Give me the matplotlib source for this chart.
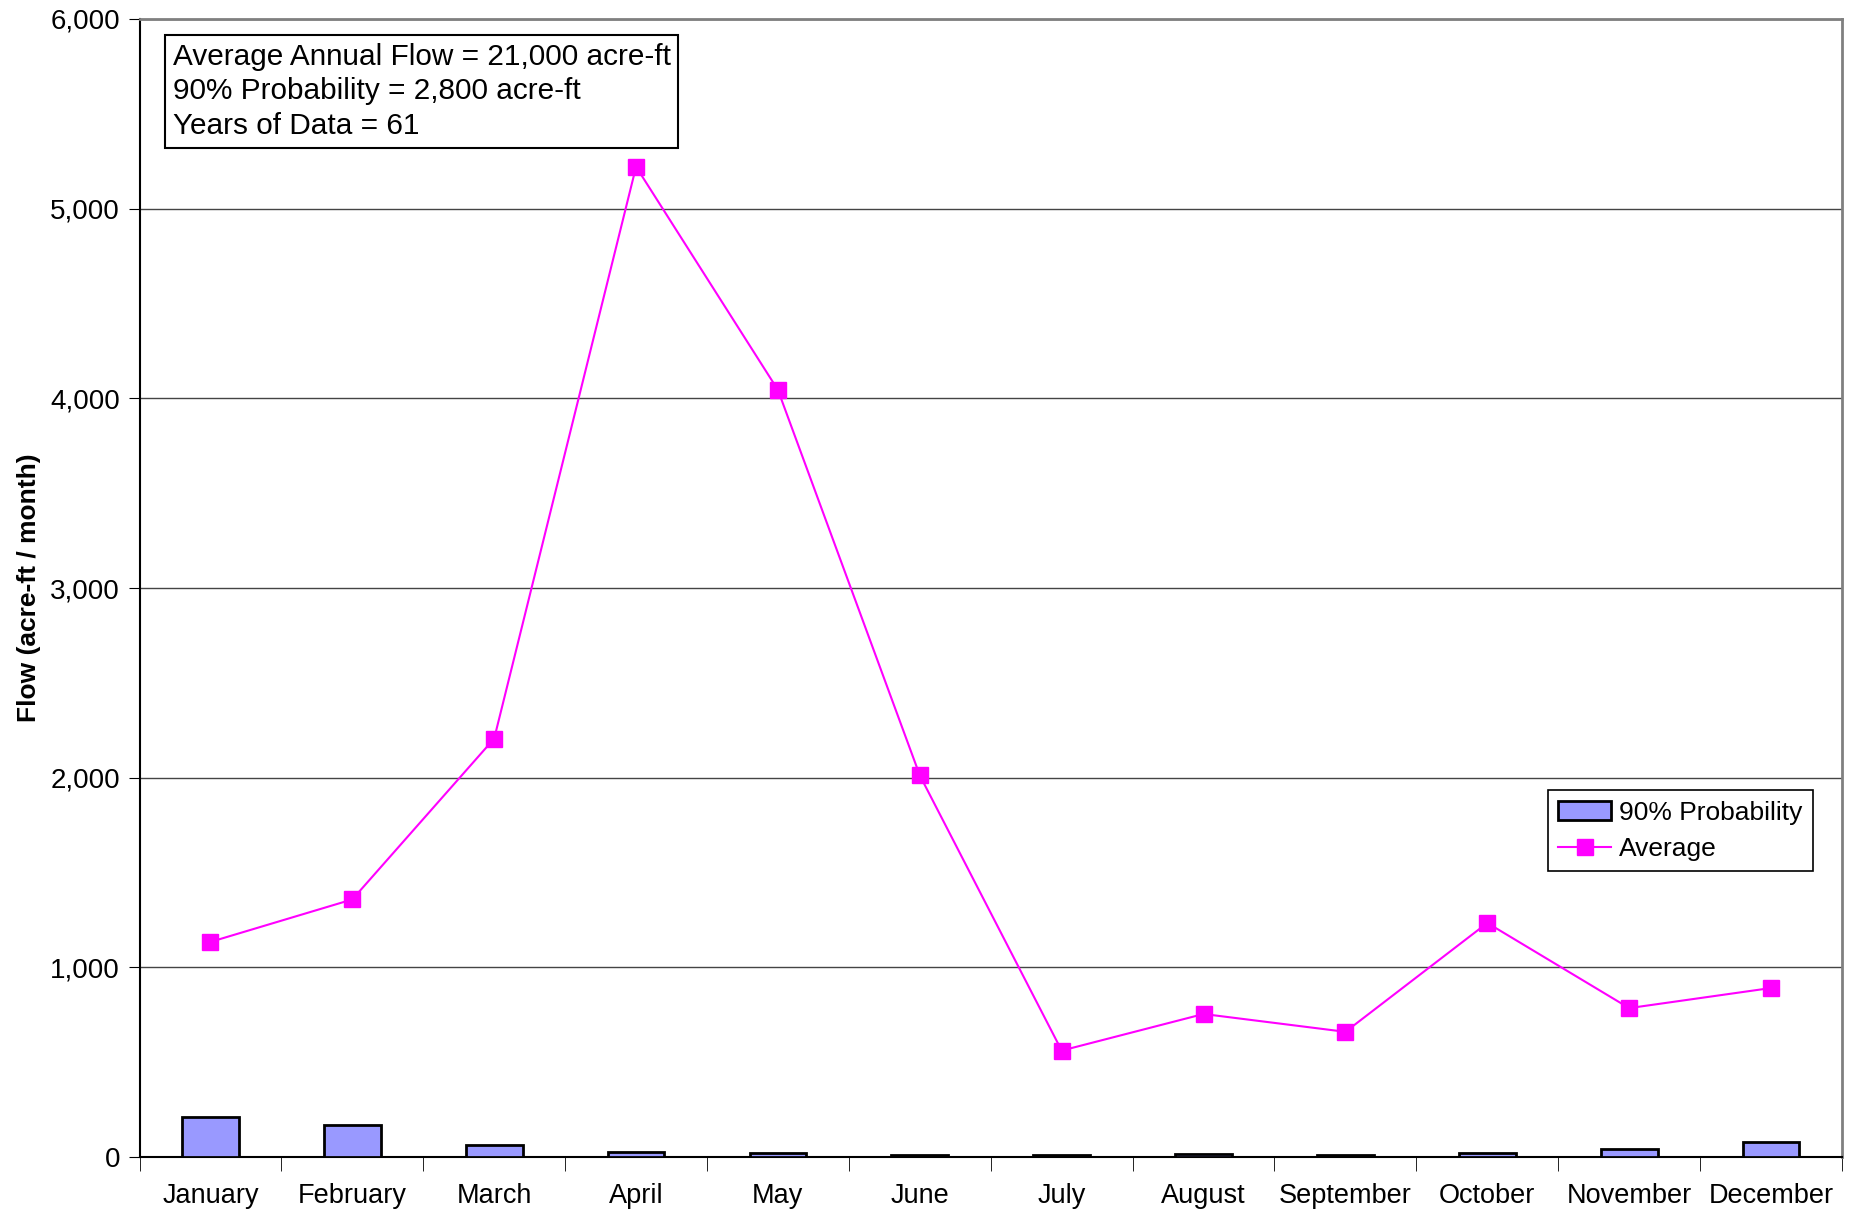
import matplotlib.pyplot as plt
import numpy as np

months = ["January", "February", "March", "April", "May", "June", "July",
          "August", "September", "October", "November", "December"]
average = [1134, 1358, 2206, 5221, 4044, 2012, 561, 754, 660, 1234, 785, 891]
prob90 = [212, 169, 65, 28, 23, 10, 10, 15, 10, 20, 44, 79]

plt.rcParams['font.family'] = ['Liberation Sans', 'DejaVu Sans']

fig = plt.figure(figsize=(18.53, 12.12), dpi=100)
ax = fig.add_axes([139.5 / 1853, 1 - 1157 / 1212, (1842 - 139.5) / 1853, (1157 - 19) / 1212])

x = np.arange(len(months))
bars = ax.bar(x, prob90, width=0.4, color='#9999FF', edgecolor='black', linewidth=2,
              label='90% Probability', zorder=3)
line, = ax.plot(x, average, color='#FF00FF', marker='s', markersize=11, linewidth=1.5,
                label='Average', zorder=4)

ax.set_xlim(-0.5, 11.5)
ax.set_ylim(0, 6000)
ax.set_yticks(range(0, 6001, 1000))
ax.set_yticklabels([f"{v:,}" for v in range(0, 6001, 1000)], fontsize=20)
ax.yaxis.grid(True, color='#444444', linewidth=1)
ax.set_axisbelow(True)

ax.set_xticks(x)
ax.set_xticklabels(months, fontsize=19.5)
ax.set_xticks(np.arange(-0.5, 12, 1), minor=True)
ax.tick_params(axis='x', which='major', length=0, pad=19)
ax.tick_params(axis='x', which='minor', length=10, direction='out', color='black')
ax.tick_params(axis='y', length=8, direction='out', pad=6)

ax.set_ylabel('Flow (acre-ft / month)', fontsize=19, fontweight='bold', labelpad=7)

for side in ['top', 'right']:
    ax.spines[side].set_color('#808080')
    ax.spines[side].set_linewidth(2)
ax.spines['left'].set_color('black')
ax.spines['left'].set_linewidth(1.5)
ax.spines['bottom'].set_color('black')
ax.spines['bottom'].set_linewidth(1.5)

ax.text(0.0195, 0.979,
        "Average Annual Flow = 21,000 acre-ft\n90% Probability = 2,800 acre-ft\nYears of Data = 61",
        transform=ax.transAxes, va='top', ha='left', fontsize=21.4, linespacing=1.3,
        bbox=dict(boxstyle='square,pad=0.25', facecolor='white', edgecolor='black', linewidth=1.5),
        zorder=5)

leg = ax.legend([bars, line], ['90% Probability', 'Average'],
                loc='lower right', bbox_to_anchor=(0.983, 0.251), borderaxespad=0,
                fontsize=19, frameon=True, fancybox=False, edgecolor='black', framealpha=1,
                handlelength=2.0, handletextpad=0.3, borderpad=0.4, labelspacing=0.45)
leg.get_frame().set_linewidth(1.2)

fig.savefig('out.png', dpi=100)
